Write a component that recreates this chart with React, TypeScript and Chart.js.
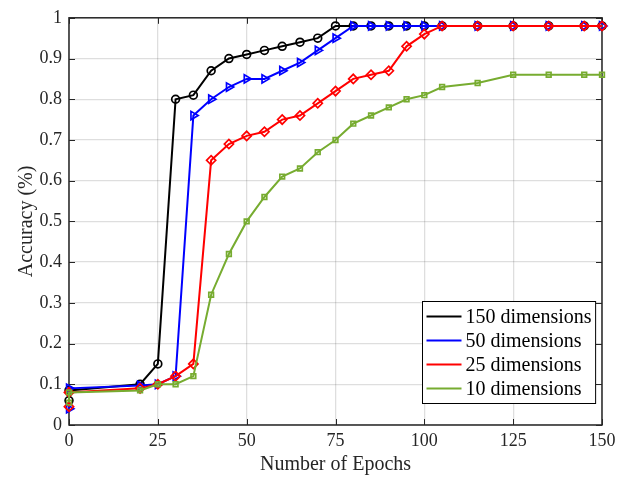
import React, { useEffect, useRef } from 'react';
import { Chart, registerables } from 'chart.js';
import { drawPoint } from 'chart.js/helpers';
Chart.register(...registerables);

const epochs = [0, 0, 20, 25, 30, 35, 40, 45, 50, 55, 60, 65, 70, 75, 80, 85, 90, 95, 100, 105, 115, 125, 135, 145, 150];
const acc150 = [0.06, 0.085, 0.1, 0.15, 0.8, 0.81, 0.87, 0.9, 0.91, 0.92, 0.93, 0.94, 0.95, 0.98, 0.98, 0.98, 0.98, 0.98, 0.98, 0.98, 0.98, 0.98, 0.98, 0.98, 0.98];
const acc50 = [0.04, 0.09, 0.097, 0.1, 0.12, 0.76, 0.8, 0.83, 0.85, 0.85, 0.87, 0.89, 0.92, 0.95, 0.98, 0.98, 0.98, 0.98, 0.98, 0.98, 0.98, 0.98, 0.98, 0.98, 0.98];
const acc25 = [0.045, 0.08, 0.09, 0.1, 0.12, 0.15, 0.65, 0.69, 0.71, 0.72, 0.75, 0.76, 0.79, 0.82, 0.85, 0.86, 0.87, 0.93, 0.96, 0.98, 0.98, 0.98, 0.98, 0.98, 0.98];
const acc10 = [0.055, 0.08, 0.085, 0.1, 0.1, 0.12, 0.32, 0.42, 0.5, 0.56, 0.61, 0.63, 0.67, 0.7, 0.74, 0.76, 0.78, 0.8, 0.81, 0.83, 0.84, 0.86, 0.86, 0.86, 0.86];

const seriesLabels = ['150 dimensions', '50 dimensions', '25 dimensions', '10 dimensions'];
const xTicks = [0, 25, 50, 75, 100, 125, 150];
const yTicks = [0, 0.1, 0.2, 0.3, 0.4, 0.5, 0.6, 0.7, 0.8, 0.9, 1];
const xTitle = 'Number of Epochs';
const yTitle = 'Accuracy (%)';

const FONT = '"Liberation Serif", "Times New Roman", serif';
const AXIS = '#262626';
const GRID = 'rgba(0,0,0,0.13)';

const framePlugin = {
  id: 'frame',
  beforeDatasetsDraw(chart: any) {
    const { ctx, chartArea: ca, scales } = chart;
    ctx.save();
    ctx.strokeStyle = AXIS;
    ctx.lineWidth = 1.5;
    ctx.strokeRect(ca.left, ca.top, ca.right - ca.left, ca.bottom - ca.top);
    ctx.lineWidth = 1;
    const tl = 6;
    ctx.beginPath();
    xTicks.forEach((v) => {
      const x = Math.round(scales.x.getPixelForValue(v)) + 0.5;
      ctx.moveTo(x, ca.bottom); ctx.lineTo(x, ca.bottom - tl);
      ctx.moveTo(x, ca.top); ctx.lineTo(x, ca.top + tl);
    });
    yTicks.forEach((v) => {
      const y = Math.round(scales.y.getPixelForValue(v)) + 0.5;
      ctx.moveTo(ca.left, y); ctx.lineTo(ca.left + tl, y);
      ctx.moveTo(ca.right, y); ctx.lineTo(ca.right - tl, y);
    });
    ctx.stroke();
    ctx.restore();
  },
};

const legendPlugin = {
  id: 'customLegend',
  afterDraw(chart: any) {
    const { ctx, chartArea: ca } = chart;
    const ds = chart.data.datasets;
    ctx.save();
    ctx.font = '20px ' + FONT;
    const textW = Math.max(...ds.map((d: any) => ctx.measureText(d.label).width));
    const rowH = 24, lineLen = 35, padL = 4, gap = 4, padR = 4, padV = 3;
    const w = padL + lineLen + gap + textW + padR;
    const h = rowH * ds.length + padV * 2;
    const right = ca.right - 7;
    const bottom = ca.bottom - 22;
    const left = Math.round(right - w) + 0.5;
    const top = Math.round(bottom - h) + 0.5;
    ctx.fillStyle = '#ffffff';
    ctx.fillRect(left, top, w, h);
    ctx.strokeStyle = '#000000';
    ctx.lineWidth = 1;
    ctx.strokeRect(left, top, w, h);
    ds.forEach((d: any, i: number) => {
      const y = top + padV + rowH * (i + 0.5);
      const x0 = left + padL;
      ctx.strokeStyle = d.borderColor;
      ctx.lineWidth = 2;
      ctx.beginPath();
      ctx.moveTo(x0, y);
      ctx.lineTo(x0 + lineLen, y);
      ctx.stroke();
      ctx.fillStyle = 'rgba(0,0,0,0)';
      ctx.strokeStyle = d.borderColor;
      ctx.lineWidth = 1.5;
      drawPoint(ctx, { pointStyle: d.pointStyle, rotation: d.pointRotation || 0, radius: 2.8 }, x0 + lineLen / 2, y);
      ctx.fillStyle = '#000000';
      ctx.textBaseline = 'middle';
      ctx.textAlign = 'left';
      ctx.fillText(d.label, x0 + lineLen + gap, y + 1);
    });
    ctx.restore();
  },
};

function series(label: string, values: number[], color: string, style: string, radius: number, order: number, rotation = 0) {
  return {
    label,
    data: epochs.map((e, i) => ({ x: e, y: values[i] })),
    borderColor: color,
    backgroundColor: 'rgba(0,0,0,0)',
    borderWidth: 2,
    pointStyle: style,
    pointRotation: rotation,
    pointRadius: radius,
    pointBorderWidth: 1.7,
    pointBorderColor: color,
    pointBackgroundColor: 'rgba(0,0,0,0)',
    tension: 0,
    clip: false,
    order,
  };
}

export default function App() {
  const ref = useRef<HTMLCanvasElement>(null);
  useEffect(() => {
    document.body.style.margin = '0';
    const chart = new Chart(ref.current!, {
      type: 'line',
      data: {
        datasets: [
          series(seriesLabels[0], acc150, '#000000', 'circle', 3.9, 4),
          series(seriesLabels[1], acc50, '#0000ff', 'triangle', 4.8, 3, 90),
          series(seriesLabels[2], acc25, '#ff0000', 'rectRot', 4.6, 2),
          series(seriesLabels[3], acc10, '#77ac30', 'rect', 3.3, 1),
        ] as any,
      },
      options: {
        animation: false,
        responsive: false,
        devicePixelRatio: 1,
        layout: { padding: { left: 0, right: 35, top: 6, bottom: 0 } },
        plugins: { legend: { display: false }, tooltip: { enabled: false } },
        scales: {
          x: {
            type: 'linear',
            min: 0,
            max: 150,
            afterBuildTicks: (s: any) => { s.ticks = xTicks.map((v) => ({ value: v })); },
            afterFit: (s: any) => { s.height = 57; },
            ticks: { color: AXIS, font: { family: FONT, size: 18 }, padding: 5, maxRotation: 0, callback: (v: any) => String(v) },
            grid: { color: GRID, lineWidth: 1.3, drawTicks: false },
            border: { display: false },
            title: { display: true, text: xTitle, color: AXIS, font: { family: FONT, size: 20 }, padding: { top: 0, bottom: 5 } },
          },
          y: {
            type: 'linear',
            min: 0,
            max: 1,
            afterBuildTicks: (s: any) => { s.ticks = yTicks.map((v) => ({ value: v })); },
            afterFit: (s: any) => { s.width = 69; },
            ticks: { color: AXIS, font: { family: FONT, size: 18 }, padding: 7, callback: (v: any) => String(+Number(v).toFixed(1)) },
            grid: { color: GRID, lineWidth: 1.3, drawTicks: false },
            border: { display: false },
            title: { display: true, text: yTitle, color: AXIS, font: { family: FONT, size: 20 }, padding: { top: 15, bottom: 0 } },
          },
        },
      },
      plugins: [framePlugin, legendPlugin],
    });
    return () => chart.destroy();
  }, []);
  return <canvas ref={ref} width={637} height={482} style={{ display: 'block', width: 637, height: 482 }} />;
}
